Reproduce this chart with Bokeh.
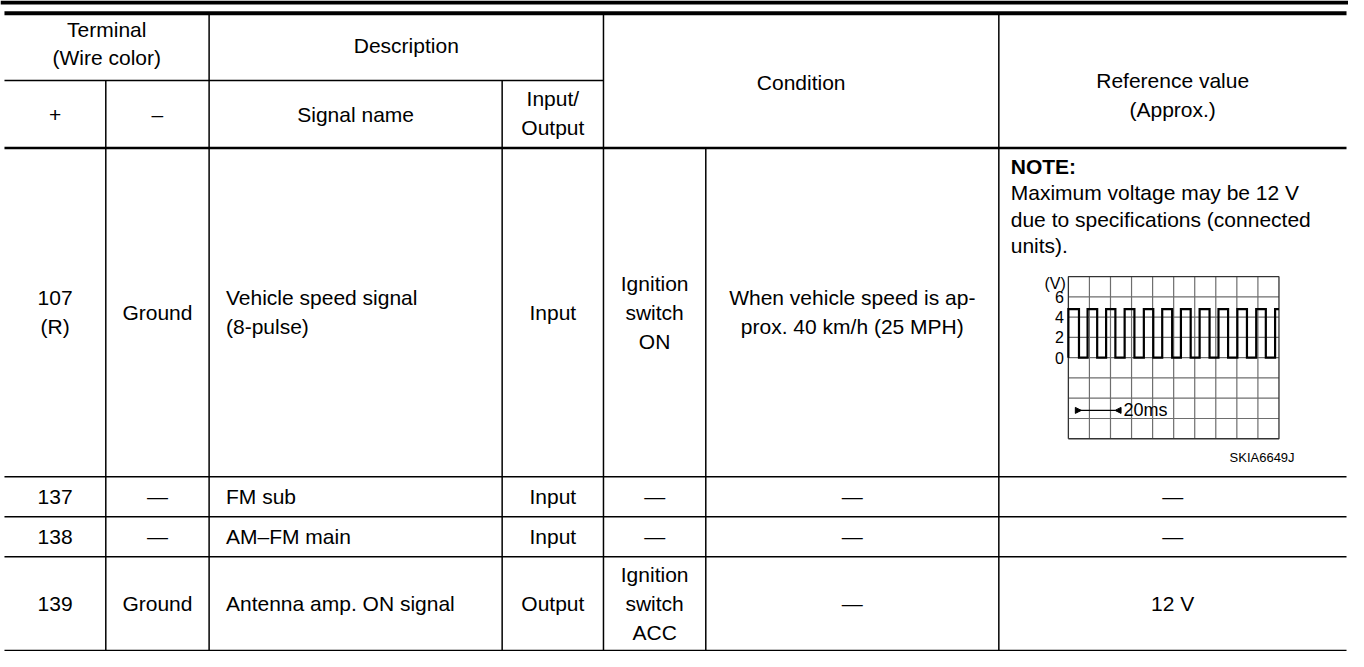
from bokeh.plotting import figure
from bokeh.models import Range1d, ColumnDataSource, Arrow, NormalHead
from bokeh.embed import file_html
from bokeh.resources import INLINE
from bokeh.core.properties import value

FONT = "Liberation Sans"

# ---------------- table content ----------------
HEADER_TERMINAL = "Terminal\n(Wire color)"
HEADER_DESCRIPTION = "Description"
HEADER_PLUS = "+"
HEADER_MINUS = "\u2013"
HEADER_SIGNAL = "Signal name"
HEADER_IO = "Input/\nOutput"
HEADER_CONDITION = "Condition"
HEADER_REFERENCE = "Reference value\n(Approx.)"

TERMINAL_PLUS = ["107\n(R)", "137", "138", "139"]
TERMINAL_MINUS = ["Ground", "\u2014", "\u2014", "Ground"]
SIGNAL_NAME = ["Vehicle speed signal\n (8-pulse)", "FM sub", "AM\u2013FM main", "Antenna amp. ON signal"]
INPUT_OUTPUT = ["Input", "Input", "Input", "Output"]
CONDITION_SWITCH = ["Ignition\nswitch\nON", "\u2014", "\u2014", "Ignition\nswitch\nACC"]
CONDITION_STATE = ["When vehicle speed is ap-\nprox. 40 km/h (25 MPH)", "\u2014", "\u2014", "\u2014"]
REFERENCE_VALUE = ["", "\u2014", "\u2014", "12 V"]
NOTE_TITLE = "NOTE:"
NOTE_LINES = ["Maximum voltage may be 12 V", "due to specifications (connected", "units)."]

# ---------------- waveform (vehicle speed signal) ----------------
PULSE_RISE_MS = [0.0, 11.4, 22.4, 33.4, 44.8, 55.7, 66.8, 77.9, 89.1, 100.3, 111.5, 122.7]
PULSE_FALL_MS = [6.3, 17.1, 27.9, 39.2, 50.4, 61.6, 72.6, 83.8, 94.8, 106.0, 117.2]
PULSE_HIGH_V = 4.8
PULSE_LOW_V = 0.0
WAVE_SPAN_MS = 125.0
WAVE_DIV_MS = 12.5
WAVE_V_MIN, WAVE_V_MAX, WAVE_V_DIV = -8, 8, 2
V_TICK_VALUES = [6, 4, 2, 0]
V_TICK_LABELS = ["6", "4", "2", "0"]
V_UNIT_LABEL = "(V)"
V_UNIT_POS = 7.3
SCALE_BAR_START_MS = 7.7
SCALE_BAR_MS = 20.0
SCALE_BAR_V = -5.2
SCALE_BAR_LABEL = "20ms"
FIGURE_ID = "SKIA6649J"

# ---------------- layout (reference pixel space) ----------------
X0, X1, Y0, Y1 = 7, 1364, 0, 667
COL = [11, 113, 217, 512, 614, 717, 1012, 1362]
HDR_TOP, HDR_MID, HDR_BOT = 13, 82, 151
ROWS = [151, 488, 529, 570, 666]
GX0, GX1 = 1082, 1294     # waveform grid left/right
GY_TOP, GY_BOT = 283, 449  # waveform grid top (+8 V) / bottom (-8 V)

W, H = 1348, 651
p = figure(width=W, height=H, x_range=Range1d(X0, X1), y_range=Range1d(Y1, Y0),
           output_backend="svg", toolbar_location=None,
           x_axis_location=None, y_axis_location=None, min_border=0)
p.grid.visible = False
p.outline_line_color = None
p.background_fill_color = "white"
p.border_fill_color = "white"

# ---- rules ----
segs = []  # x0, y0, x1, y1, width
segs.append((X0, 2, X1, 2, 4))
segs.append((COL[0], HDR_TOP, COL[-1], HDR_TOP, 4))
segs.append((COL[0], HDR_MID, COL[4], HDR_MID, 1.5))
segs.append((COL[0], HDR_BOT, COL[-1], HDR_BOT, 2.5))
for y in ROWS[1:]:
    segs.append((COL[0], y, COL[-1], y, 1.5))
for x, ytop in [(COL[1], HDR_MID), (COL[2], HDR_TOP), (COL[3], HDR_MID),
                (COL[4], HDR_TOP), (COL[5], HDR_BOT), (COL[6], HDR_TOP)]:
    segs.append((x, ytop, x, ROWS[-1], 1.5))
for s in segs:
    p.segment(x0=[s[0]], y0=[s[1]], x1=[s[2]], y1=[s[3]], line_color="black", line_width=s[4])

# ---- texts ----
FS = "21px"
LH = 1.25

def centre(a, b):
    return (a + b) / 2.0

ctext = dict(x=[], y=[], text=[])
def addc(t, x, y):
    ctext["x"].append(x); ctext["y"].append(y); ctext["text"].append(t)

addc(HEADER_TERMINAL, centre(COL[0], COL[2]), 44)
addc(HEADER_DESCRIPTION, centre(COL[2], COL[4]), 46)
addc(HEADER_PLUS, centre(COL[0], COL[1]), 117)
addc(HEADER_MINUS, centre(COL[1], COL[2]), 117)
addc(HEADER_SIGNAL, centre(COL[2], COL[3]), 117)
addc(HEADER_IO, centre(COL[3], COL[4]), 115)
addc(HEADER_CONDITION, centre(COL[4], COL[6]), 84)
addc(HEADER_REFERENCE, centre(COL[6], COL[7]), 97)

ltext = dict(x=[], y=[], text=[])
for i in range(len(TERMINAL_PLUS)):
    yc = centre(ROWS[i], ROWS[i + 1])
    addc(TERMINAL_PLUS[i], centre(COL[0], COL[1]), yc)
    addc(TERMINAL_MINUS[i], centre(COL[1], COL[2]), yc)
    ltext["x"].append(COL[2] + 17); ltext["y"].append(yc); ltext["text"].append(SIGNAL_NAME[i])
    addc(INPUT_OUTPUT[i], centre(COL[3], COL[4]), yc)
    addc(CONDITION_SWITCH[i], centre(COL[4], COL[5]), yc)
    addc(CONDITION_STATE[i], centre(COL[5], COL[6]), yc)
    if REFERENCE_VALUE[i]:
        addc(REFERENCE_VALUE[i], centre(COL[6], COL[7]), yc)

p.text(x="x", y="y", text="text", source=ColumnDataSource(ctext),
       text_font=value(FONT), text_font_size=FS, text_align="center",
       text_baseline="middle", text_line_height=LH, text_color="black")
p.text(x="x", y="y", text="text", source=ColumnDataSource(ltext),
       text_font=value(FONT), text_font_size=FS, text_align="left",
       text_baseline="middle", text_line_height=LH, text_color="black")

# NOTE block
note_x = COL[6] + 12
p.text(x=[note_x], y=[170], text=[NOTE_TITLE], text_font=value(FONT), text_font_size=FS,
       text_font_style="bold", text_align="left", text_baseline="middle", text_color="black")
p.text(x=[note_x] * len(NOTE_LINES), y=[197 + 27 * k for k in range(len(NOTE_LINES))],
       text=NOTE_LINES, text_font=value(FONT), text_font_size=FS,
       text_align="left", text_baseline="middle", text_color="black")

# ---- waveform on its own scales ----
sx = (GX1 - GX0) / WAVE_SPAN_MS
sy = (GY_BOT - GY_TOP) / (WAVE_V_MAX - WAVE_V_MIN)
p.extra_x_ranges = {"wx": Range1d((X0 - GX0) / sx, (X1 - GX0) / sx)}
p.extra_y_ranges = {"wy": Range1d(WAVE_V_MAX - (Y1 - GY_TOP) / sy, WAVE_V_MAX - (Y0 - GY_TOP) / sy)}
WR = dict(x_range_name="wx", y_range_name="wy")

n_x = int(round(WAVE_SPAN_MS / WAVE_DIV_MS))
n_y = int(round((WAVE_V_MAX - WAVE_V_MIN) / WAVE_V_DIV))
vx = [k * WAVE_DIV_MS for k in range(1, n_x)]
p.segment(x0=vx, y0=[WAVE_V_MIN] * len(vx), x1=vx, y1=[WAVE_V_MAX] * len(vx),
          line_color="#6e6e6e", line_width=1.2, **WR)
hy = [WAVE_V_MIN + k * WAVE_V_DIV for k in range(1, n_y)]
p.segment(x0=[0] * len(hy), y0=hy, x1=[WAVE_SPAN_MS] * len(hy), y1=hy,
          line_color="#6e6e6e", line_width=1.2, **WR)
p.line(x=[0, WAVE_SPAN_MS, WAVE_SPAN_MS, 0, 0],
       y=[WAVE_V_MIN, WAVE_V_MIN, WAVE_V_MAX, WAVE_V_MAX, WAVE_V_MIN],
       line_color="#333333", line_width=1.3, **WR)

events = sorted([(t, PULSE_HIGH_V) for t in PULSE_RISE_MS] + [(t, PULSE_LOW_V) for t in PULSE_FALL_MS])
wx_pts, wy_pts = [0.0], [PULSE_LOW_V]
cur = PULSE_LOW_V
for t, lvl in events:
    wx_pts += [t, t]
    wy_pts += [cur, lvl]
    cur = lvl
wx_pts.append(WAVE_SPAN_MS)
wy_pts.append(cur)
p.line(x=wx_pts, y=wy_pts, line_color="black", line_width=2.2, line_join="miter", **WR)

p.text(x=[-2.6] * len(V_TICK_VALUES), y=V_TICK_VALUES, text=V_TICK_LABELS,
       text_font=value(FONT), text_font_size="16px", text_align="right",
       text_baseline="middle", text_color="black", **WR)
p.text(x=[-1.5], y=[V_UNIT_POS], text=[V_UNIT_LABEL],
       text_font=value(FONT), text_font_size="16px", text_align="right",
       text_baseline="middle", text_color="black", **WR)

bar_end = SCALE_BAR_START_MS + SCALE_BAR_MS
p.segment(x0=[SCALE_BAR_START_MS - 1.8], y0=[SCALE_BAR_V], x1=[bar_end], y1=[SCALE_BAR_V],
          line_color="black", line_width=1.3, **WR)
p.add_layout(Arrow(end=NormalHead(size=6, fill_color="black", line_color="black"),
                   x_start=SCALE_BAR_START_MS - 1.8, y_start=SCALE_BAR_V,
                   x_end=SCALE_BAR_START_MS, y_end=SCALE_BAR_V, line_width=1.3, **WR))
p.add_layout(Arrow(end=NormalHead(size=6, fill_color="black", line_color="black"),
                   x_start=bar_end + 0.4, y_start=SCALE_BAR_V,
                   x_end=bar_end, y_end=SCALE_BAR_V, line_width=1.3, **WR))
p.text(x=[bar_end + 5.0], y=[SCALE_BAR_V], text=[SCALE_BAR_LABEL],
       text_font=value(FONT), text_font_size="18px", text_align="left",
       text_baseline="middle", text_color="black", **WR)

p.text(x=[1277], y=[468], text=[FIGURE_ID], text_font=value(FONT), text_font_size="13px",
       text_align="center", text_baseline="middle", text_color="black")

open("out.html", "w").write(file_html(p, INLINE))
